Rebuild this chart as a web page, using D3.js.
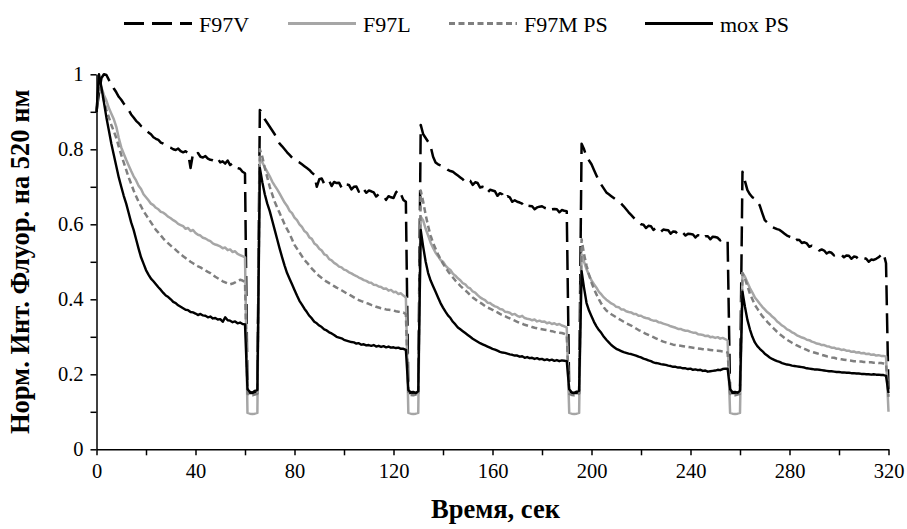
<!DOCTYPE html>
<html>
<head>
<meta charset="utf-8">
<script src="https://cdn.jsdelivr.net/npm/d3@7"></script>
<style>
  body { margin: 0; background: #fff; }
</style>
</head>
<body>
<div id="chart"></div>
<script>
// series names (legend order)
const seriesNames = ["F97V", "F97L", "F97M PS", "mox PS"];

// sampling grid: one reading per second, 0..320 s
const time = d3.range(0, 321);

const xTicks = d3.range(0, 321, 20);
const yTicks = d3.range(0, 11).map(i => i / 10);

// values, one per second
const f97v = [
  .90,.95,.99,1.0,.998,.985,.975,.962,.952,.94,
  .932,.922,.914,.905,.893,.885,.876,.870,.862,.858,
  .852,.845,.840,.832,.828,.825,.818,.815,.810,.806,
  .804,.800,.798,.802,.795,.792,.795,.790,.750,.789,
  .785,.790,.780,.778,.782,.775,.772,.771,.768,.775,
  .765,.768,.762,.770,.758,.763,.755,.750,.748,.740,
  .736,.150,.150,.150,.150,.150,.905,.895,.880,.870,
  .860,.850,.840,.825,.815,.808,.800,.792,.785,.778,
  .772,.768,.765,.760,.755,.750,.745,.738,.732,.700,
  .720,.722,.708,.715,.716,.702,.713,.710,.711,.698,
  .709,.706,.705,.693,.700,.701,.687,.698,.693,.684,
  .690,.688,.685,.674,.680,.678,.676,.665,.675,.672,
  .670,.685,.692,.680,.665,.660,.150,.150,.150,.150,
  .150,.865,.840,.830,.820,.808,.780,.765,.760,.757,
  .755,.750,.745,.742,.740,.735,.730,.725,.720,.712,
  .718,.716,.705,.712,.710,.698,.700,.698,.685,.692,
  .690,.688,.676,.683,.680,.668,.675,.672,.660,.664,
  .660,.658,.655,.645,.650,.649,.648,.640,.645,.647,
  .648,.644,.642,.635,.640,.641,.640,.632,.638,.636,
  .635,.150,.150,.150,.150,.150,.815,.800,.780,.770,
  .760,.745,.730,.715,.705,.695,.685,.680,.675,.670,
  .665,.660,.655,.648,.640,.632,.625,.618,.610,.605,
  .600,.599,.590,.596,.595,.585,.590,.589,.580,.586,
  .585,.584,.575,.581,.580,.572,.578,.577,.570,.575,
  .574,.573,.565,.571,.570,.562,.568,.568,.560,.567,
  .566,.564,.557,.561,.560,.555,.150,.150,.150,.150,
  .150,.740,.715,.691,.680,.672,.668,.662,.650,.630,
  .611,.605,.598,.593,.590,.587,.585,.580,.575,.570,
  .567,.564,.555,.559,.558,.550,.552,.549,.540,.543,
  .540,.538,.530,.533,.530,.522,.526,.524,.517,.521,
  .520,.519,.512,.517,.516,.508,.514,.513,.506,.511,
  .510,.508,.500,.506,.505,.508,.512,.518,.523,.496,
  .150
];

const f97l = [
  .90,.98,.965,.945,.93,.91,.895,.88,.86,.83,
  .805,.788,.772,.757,.742,.728,.717,.703,.694,.680,
  .672,.664,.655,.651,.644,.640,.633,.631,.626,.620,
  .616,.611,.607,.601,.598,.595,.588,.590,.582,.585,
  .577,.572,.570,.564,.562,.558,.555,.549,.546,.544,
  .541,.536,.538,.531,.533,.526,.528,.521,.518,.515,
  .512,.097,.095,.094,.095,.097,.775,.765,.752,.740,
  .728,.714,.703,.693,.682,.670,.658,.649,.636,.630,
  .618,.611,.600,.593,.582,.577,.565,.561,.549,.544,
  .535,.530,.520,.517,.507,.504,.497,.493,.487,.485,
  .479,.477,.472,.469,.465,.462,.458,.455,.451,.449,
  .445,.444,.439,.438,.434,.433,.428,.429,.423,.425,
  .419,.420,.414,.416,.410,.405,.097,.095,.094,.095,
  .097,.620,.610,.588,.570,.551,.537,.524,.515,.505,
  .500,.490,.483,.478,.468,.463,.456,.451,.443,.440,
  .432,.429,.421,.418,.411,.405,.401,.398,.391,.390,
  .385,.381,.379,.374,.373,.367,.366,.364,.359,.361,
  .356,.353,.356,.350,.348,.347,.344,.346,.341,.343,
  .340,.341,.336,.338,.334,.336,.332,.334,.330,.328,
  .325,.097,.095,.094,.095,.097,.520,.500,.480,.465,
  .450,.440,.431,.420,.413,.405,.399,.394,.389,.386,
  .380,.379,.373,.373,.368,.366,.365,.361,.361,.356,
  .356,.352,.350,.349,.345,.343,.343,.339,.338,.335,
  .333,.331,.328,.326,.324,.321,.321,.318,.316,.316,
  .313,.311,.311,.307,.306,.305,.302,.303,.299,.300,
  .297,.299,.295,.297,.294,.290,.097,.095,.094,.095,
  .097,.470,.460,.445,.430,.418,.405,.397,.388,.380,
  .373,.366,.361,.354,.349,.341,.336,.330,.326,.320,
  .317,.312,.309,.304,.301,.298,.296,.292,.291,.287,
  .285,.282,.281,.278,.278,.275,.274,.271,.271,.268,
  .268,.265,.266,.263,.263,.260,.261,.258,.259,.256,
  .257,.254,.255,.252,.253,.250,.251,.249,.249,.247,
  .100
];

const f97m = [
  .90,.97,.955,.93,.905,.885,.865,.848,.83,.807,
  .785,.765,.745,.725,.708,.690,.675,.660,.648,.635,
  .625,.615,.605,.595,.585,.578,.570,.562,.555,.549,
  .543,.537,.532,.526,.520,.515,.510,.505,.500,.496,
  .492,.488,.485,.481,.477,.473,.470,.465,.460,.456,
  .452,.448,.445,.442,.440,.442,.445,.449,.452,.450,
  .445,.148,.145,.144,.146,.148,.800,.780,.750,.725,
  .700,.680,.660,.645,.630,.615,.600,.587,.575,.560,
  .545,.535,.525,.515,.505,.498,.490,.482,.475,.468,
  .462,.457,.452,.447,.443,.439,.435,.431,.428,.424,
  .420,.416,.413,.409,.405,.401,.398,.395,.393,.390,
  .388,.385,.383,.380,.378,.376,.375,.373,.372,.371,
  .370,.368,.367,.366,.365,.360,.148,.145,.144,.146,
  .148,.690,.660,.625,.595,.570,.550,.535,.520,.507,
  .495,.485,.475,.466,.458,.450,.443,.436,.430,.424,
  .418,.411,.405,.400,.395,.391,.387,.382,.378,.375,
  .372,.368,.365,.361,.358,.355,.352,.349,.346,.343,
  .340,.337,.335,.332,.330,.328,.326,.324,.323,.321,
  .320,.319,.318,.316,.315,.313,.312,.311,.310,.308,
  .305,.148,.145,.144,.146,.148,.560,.520,.490,.465,
  .445,.428,.413,.400,.388,.378,.370,.365,.360,.356,
  .352,.348,.344,.340,.336,.333,.330,.326,.322,.318,
  .315,.311,.308,.305,.302,.299,.296,.293,.290,.287,
  .285,.283,.281,.279,.278,.277,.276,.275,.274,.273,
  .272,.271,.270,.269,.268,.267,.266,.266,.265,.264,
  .263,.263,.262,.261,.260,.258,.148,.145,.144,.146,
  .148,.470,.455,.435,.415,.400,.385,.375,.365,.355,
  .348,.340,.333,.326,.320,.313,.307,.302,.297,.292,
  .288,.284,.280,.277,.274,.271,.268,.265,.262,.260,
  .258,.256,.254,.252,.250,.248,.247,.245,.244,.242,
  .241,.240,.239,.238,.237,.236,.235,.235,.234,.234,
  .233,.233,.232,.232,.231,.231,.230,.230,.229,.228,
  .140
];

const mox = [
  .90,1.0,.965,.925,.885,.85,.815,.785,.755,.725,
  .700,.676,.655,.630,.605,.585,.560,.535,.512,.495,
  .478,.466,.455,.448,.440,.432,.425,.417,.410,.406,
  .400,.393,.390,.384,.380,.376,.372,.371,.366,.365,
  .362,.358,.361,.357,.356,.352,.354,.349,.350,.346,
  .347,.340,.352,.344,.343,.339,.341,.336,.338,.334,
  .333,.160,.153,.151,.156,.158,.750,.712,.680,.655,
  .635,.610,.585,.560,.535,.512,.490,.470,.455,.440,
  .425,.410,.396,.386,.375,.366,.356,.349,.340,.336,
  .330,.326,.320,.317,.312,.309,.305,.300,.298,.296,
  .292,.290,.288,.286,.285,.282,.283,.279,.280,.277,
  .278,.276,.278,.274,.276,.273,.275,.272,.274,.271,
  .272,.270,.271,.268,.268,.265,.158,.152,.153,.150,
  .155,.585,.540,.500,.470,.450,.435,.420,.405,.390,
  .378,.367,.357,.350,.340,.333,.325,.320,.315,.310,
  .305,.300,.295,.291,.287,.283,.280,.277,.274,.271,
  .268,.266,.263,.260,.258,.257,.255,.253,.252,.250,
  .250,.247,.248,.244,.246,.243,.244,.241,.243,.240,
  .241,.238,.240,.237,.239,.236,.238,.235,.237,.236,
  .235,.160,.152,.150,.154,.156,.475,.430,.390,.370,
  .355,.340,.328,.318,.310,.300,.292,.285,.278,.273,
  .268,.265,.262,.259,.257,.255,.254,.252,.250,.247,
  .245,.242,.240,.237,.235,.232,.230,.229,.227,.226,
  .225,.223,.222,.220,.220,.218,.218,.216,.216,.214,
  .215,.212,.213,.211,.212,.209,.210,.207,.208,.209,
  .210,.212,.211,.214,.215,.215,.160,.152,.153,.151,
  .156,.420,.380,.345,.320,.300,.285,.275,.268,.262,
  .255,.250,.245,.241,.238,.235,.233,.230,.228,.226,
  .225,.223,.222,.221,.220,.219,.218,.216,.215,.214,
  .213,.213,.212,.211,.210,.209,.208,.208,.207,.206,
  .206,.205,.205,.204,.204,.203,.203,.202,.202,.201,
  .201,.200,.200,.199,.200,.199,.199,.198,.198,.196,
  .150
];

const seriesValues = [f97v, f97l, f97m, mox];

// line styles per series
const styles = [
  { color: "#000", width: 2.5, dash: "20,8" },
  { color: "#a6a6a6", width: 2.5, dash: null },
  { color: "#7f7f7f", width: 2.5, dash: "6,3.5" },
  { color: "#000", width: 2.4, dash: null }
];

const FONT = '"Liberation Serif", "Times New Roman", Tinos, serif';

const W = 907, H = 529;
const margin = { top: 74.3, right: 18.5, bottom: 79.7, left: 96.5 };

const svg = d3.select("#chart")
  .append("svg")
  .attr("width", W)
  .attr("height", H);

const x = d3.scaleLinear()
  .domain([0, 320])
  .range([margin.left, W - margin.right]);

const y = d3.scaleLinear()
  .domain([0, 1])
  .range([H - margin.bottom, margin.top]);

// lines
const line = d3.line()
  .x((d, i) => x(time[i]))
  .y(d => y(d));

svg.append("g")
  .selectAll("path")
  .data(seriesValues)
  .join("path")
  .attr("d", line)
  .attr("fill", "none")
  .attr("stroke", (d, i) => styles[i].color)
  .attr("stroke-width", (d, i) => styles[i].width)
  .attr("stroke-dasharray", (d, i) => styles[i].dash)
  .attr("stroke-linejoin", "round");

// x axis
svg.append("g")
  .attr("transform", `translate(0,${H - margin.bottom})`)
  .call(d3.axisBottom(x)
    .tickValues(xTicks)
    .tickSize(6)
    .tickSizeOuter(0)
    .tickPadding(8)
    .tickFormat(d => d % 40 === 0 ? d : ""));

// y axis
svg.append("g")
  .attr("transform", `translate(${margin.left},0)`)
  .call(d3.axisLeft(y)
    .tickValues(yTicks)
    .tickSize(6)
    .tickSizeOuter(0)
    .tickPadding(7)
    .tickFormat((d, i) => i % 2 === 0 ? d3.format("~g")(d) : ""));

svg.selectAll(".tick text")
  .style("font-family", FONT)
  .style("font-size", "20.5px")
  .style("fill", "#000");
svg.selectAll(".domain, .tick line")
  .attr("stroke", "#000")
  .attr("stroke-width", 1.5);

// axis titles
svg.append("text")
  .attr("x", (margin.left + W - margin.right) / 2 + 3)
  .attr("y", 518)
  .attr("text-anchor", "middle")
  .style("font-family", FONT)
  .style("font-weight", "bold")
  .style("font-size", "26.5px")
  .text("Время, сек");

svg.append("text")
  .attr("transform", `translate(29,${(margin.top + H - margin.bottom) / 2}) rotate(-90)`)
  .attr("text-anchor", "middle")
  .style("font-family", FONT)
  .style("font-weight", "bold")
  .style("font-size", "26.5px")
  .text("Норм. Инт. Флуор. на 520 нм");

// legend
const legendX = [124, 288, 449, 645];
const legend = svg.append("g")
  .selectAll("g")
  .data(seriesNames)
  .join("g")
  .attr("transform", (d, i) => `translate(${legendX[i]},23.5)`);

legend.append("line")
  .attr("x1", 0).attr("x2", 68)
  .attr("stroke", (d, i) => styles[i].color)
  .attr("stroke-width", (d, i) => i === 3 ? 3 : styles[i].width + 0.5)
  .attr("stroke-dasharray", (d, i) => styles[i].dash);

legend.append("text")
  .attr("x", 75)
  .attr("y", 8)
  .style("font-family", FONT)
  .style("font-size", "22px")
  .text(d => d);
</script>
</body>
</html>
